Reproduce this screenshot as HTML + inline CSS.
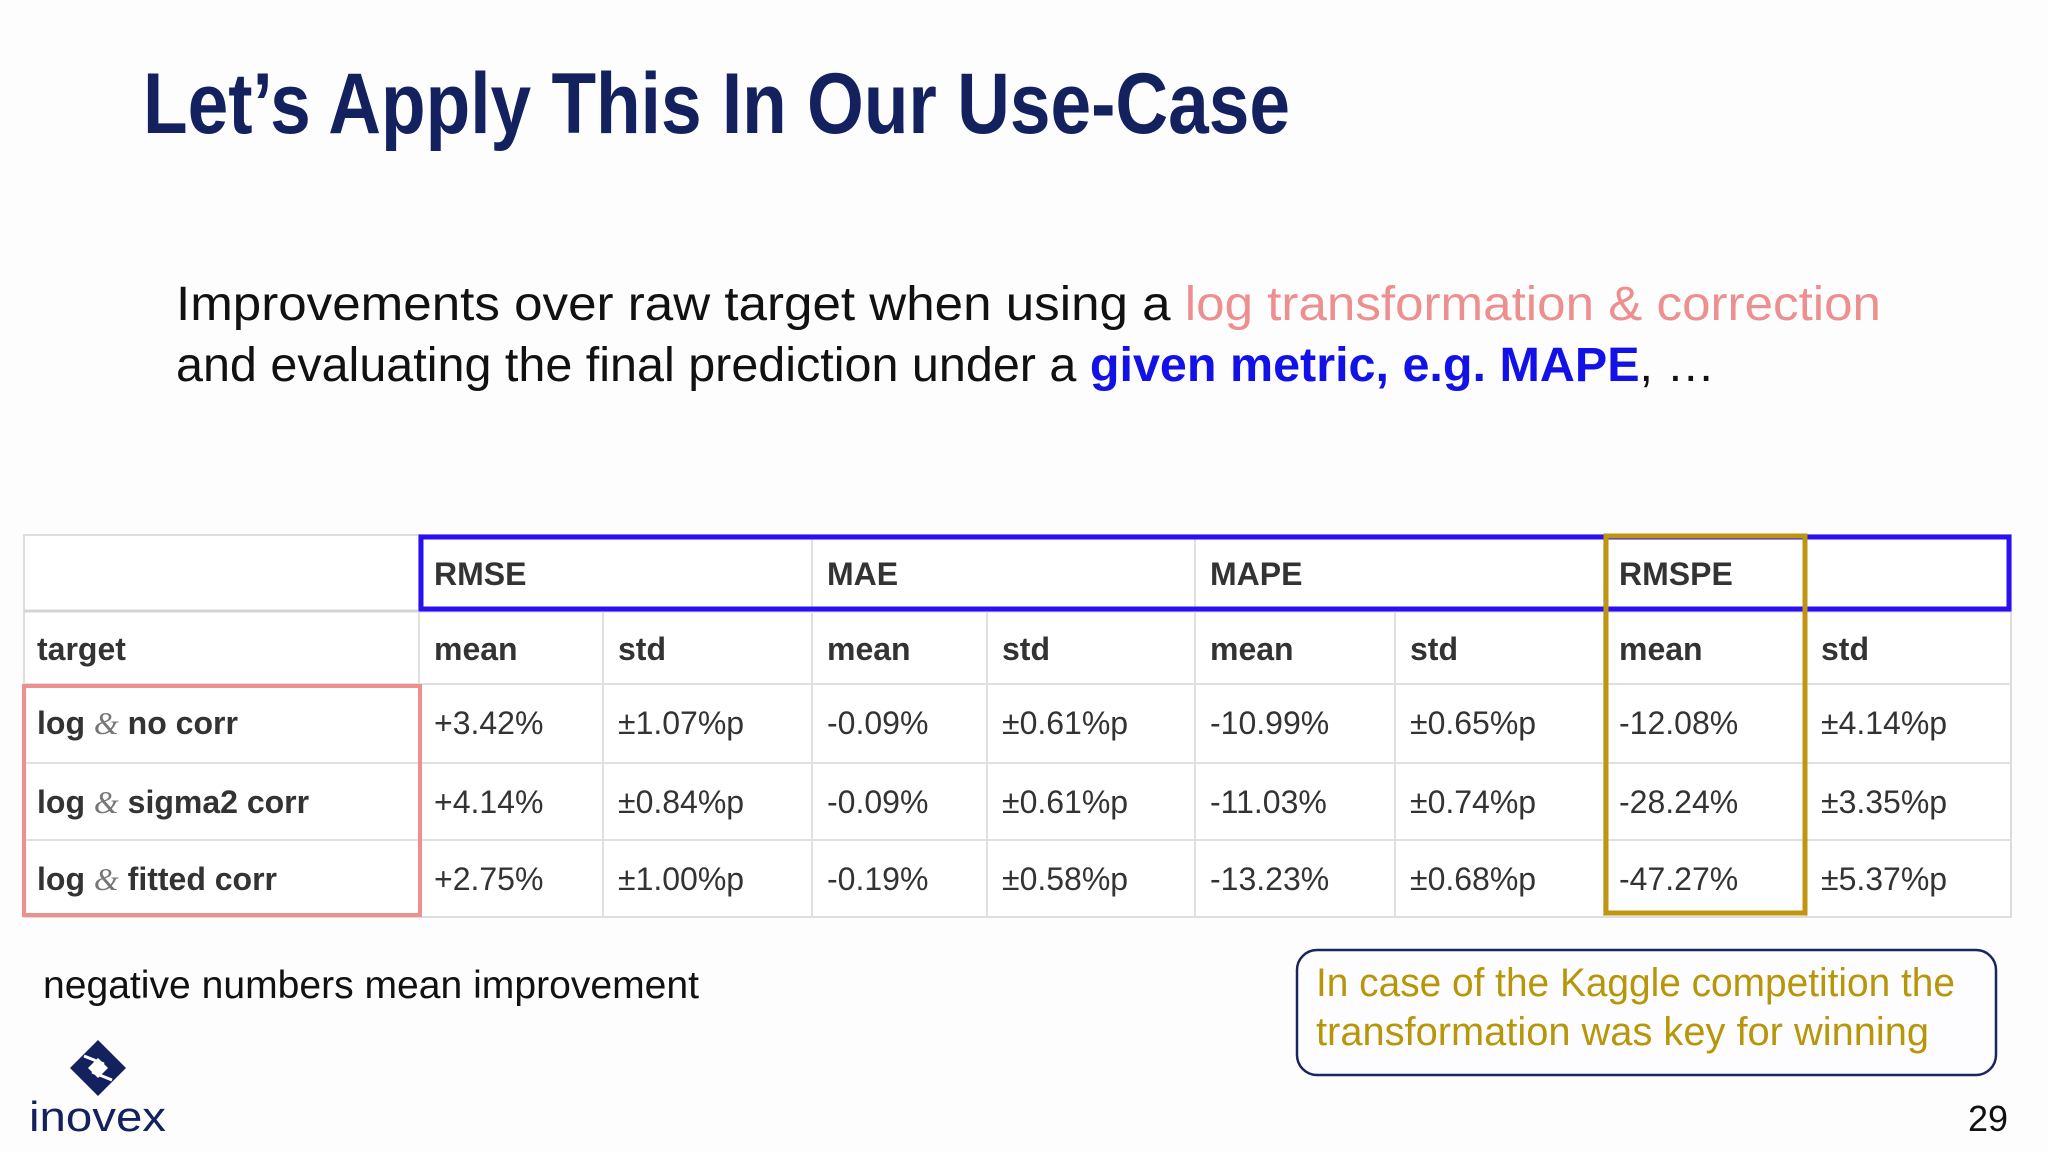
<!DOCTYPE html>
<html><head><meta charset="utf-8"><style>
html,body{margin:0;padding:0;background:#fff;}
svg{display:block;}
text{font-family:"Liberation Sans",sans-serif;}
</style></head><body>
<svg id="s" width="2048" height="1152" viewBox="0 0 2048 1152">
<rect width="2048" height="1152" fill="#fdfdfe"/>
<text x="143" y="133" font-size="86" font-weight="bold" fill="#14215f" textLength="1147" lengthAdjust="spacingAndGlyphs">Let’s Apply This In Our Use-Case</text>
<text x="176" y="320" font-size="48" fill="#111" textLength="1705" lengthAdjust="spacingAndGlyphs">Improvements over raw target when using a <tspan fill="#ee8f8f">log transformation &amp; correction</tspan></text>
<text x="176" y="381" font-size="48" fill="#111" textLength="1539" lengthAdjust="spacingAndGlyphs">and evaluating the final prediction under a <tspan fill="#1212e8" font-weight="bold">given metric, e.g. MAPE</tspan>, …</text>
<g id="tbl"></g>
<text x="43" y="998" font-size="39" fill="#111" textLength="656" lengthAdjust="spacingAndGlyphs">negative numbers mean improvement</text>
<rect x="1297" y="950" width="699" height="125" rx="20" fill="#fdfdff" stroke="#1b2660" stroke-width="2.5"/>
<text x="1316" y="996" font-size="40" fill="#b8960a" textLength="639" lengthAdjust="spacingAndGlyphs">In case of the Kaggle competition the</text>
<text x="1316" y="1045" font-size="40" fill="#b8960a" textLength="613" lengthAdjust="spacingAndGlyphs">transformation was key for winning</text>
<g>
<polygon points="98,1040 126,1068 98,1096 70,1068" fill="#14215f"/>
<polygon points="98,1058 108,1068 98,1078 88,1068" fill="#fff"/>
<line x1="84" y1="1056" x2="104" y2="1064" stroke="#fff" stroke-width="3"/>
<line x1="112" y1="1080" x2="92" y2="1072" stroke="#fff" stroke-width="3"/>
<text x="29" y="1131" font-size="42" fill="#14215f" textLength="137" lengthAdjust="spacingAndGlyphs">inovex</text>
</g>
<text x="1968" y="1131" font-size="36" fill="#111">29</text>
</svg>
<script>
const metrics = ["RMSE","MAE","MAPE","RMSPE"];
const rowLabels = ["no corr","sigma2 corr","fitted corr"];
const meanValues = [["+3.42%","-0.09%","-10.99%","-12.08%"],["+4.14%","-0.09%","-11.03%","-28.24%"],["+2.75%","-0.19%","-13.23%","-47.27%"]];
const stdValues = [["±1.07%p","±0.61%p","±0.65%p","±4.14%p"],["±0.84%p","±0.61%p","±0.74%p","±3.35%p"],["±1.00%p","±0.58%p","±0.68%p","±5.37%p"]];

const NS="http://www.w3.org/2000/svg";
const g=document.getElementById('tbl');
const colX=[24,419,603,812,987,1195,1395,1604,1806,2011];
const rowY=[535,611,684,763,840,917];
function el(t,a){const e=document.createElementNS(NS,t);for(const k in a)e.setAttribute(k,a[k]);g.appendChild(e);return e;}
function txt(x,y,s,bold,name){
  const e=el('text',{x:x,y:y,'font-size':32,fill:'#333','font-weight':bold?'bold':'normal'});
  e.textContent=s;
  
  
  return e;}
const bg=el('rect',{x:24,y:535,width:1987,height:382,fill:'#fff',stroke:'#ddd','stroke-width':2});


for(let i=1;i<rowY.length-1;i++){
  const l=el('line',{x1:24,x2:2011,y1:rowY[i],y2:rowY[i],stroke:i==1?'#d4d4d4':'#e0e0e0','stroke-width':i==1?3:2});
  
  
}
for(let i=1;i<colX.length-1;i++){
  const top=(i%2==1)?535:611;
  const l=el('line',{x1:colX[i],x2:colX[i],y1:top,y2:917,stroke:'#e0e0e0','stroke-width':2});
  
  
}
metrics.forEach((m,i)=>txt(colX[1+2*i]+15,585,m,true,'metric-header-'+m.toLowerCase()));
txt(37,660,'target',true,'target-header');
for(let i=0;i<4;i++){txt(colX[1+2*i]+15,660,'mean',true,'mean-header');txt(colX[2+2*i]+15,660,'std',true,'std-header');}
rowLabels.forEach((r,j)=>{
  const y=rowY[j+2]+50;
  const e=el('text',{x:37,y:y,'font-size':32,fill:'#333','font-weight':'bold'});
  
  
  e.innerHTML='log <tspan font-family="Liberation Serif" font-style="italic" font-weight="normal" fill="#777">&amp;</tspan> '+r;
  for(let i=0;i<4;i++){
    txt(colX[1+2*i]+15,y,meanValues[j][i],false,'mean-value');
    txt(colX[2+2*i]+15,y,stdValues[j][i],false,'std-value');
  }
});
const b=el('rect',{x:421,y:537,width:1588,height:72,fill:'none',stroke:'#2a10f0','stroke-width':5});


const p=el('rect',{x:24,y:686,width:396,height:229,fill:'none',stroke:'#ee9090','stroke-width':4});


const o=el('rect',{x:1606,y:536,width:199,height:377,fill:'none',stroke:'#c09510','stroke-width':5});


</script>
</body></html>
